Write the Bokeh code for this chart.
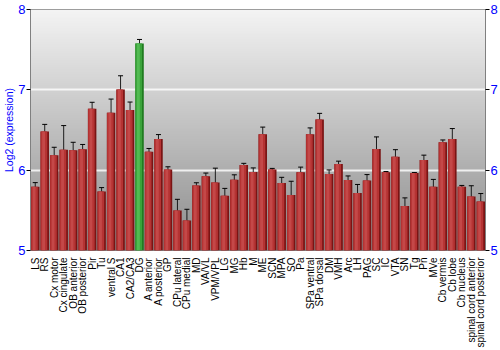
import numpy as np
from bokeh.plotting import figure
from bokeh.models import (ColumnDataSource, Range1d, Whisker, TeeHead,
                          LinearAxis, FixedTicker)
from bokeh.transform import dodge
from bokeh.embed import file_html
from bokeh.resources import INLINE

regions = ["LS", "RS", "Cx motor", "Cx cingulate", "OB anterior", "OB posterior", "Pir", "Tu",
           "ventral S", "CA1", "CA2/CA3", "DG", "A anterior", "A posterior", "GP", "CPu lateral",
           "CPu medial", "MD", "VA/VL", "VPM/VPL", "LG", "MG", "Hb", "M", "ME", "SCN", "MPA", "SO",
           "Pa", "SPa ventral", "SPa dorsal", "DM", "VMH", "Arc", "LH", "PAG", "SC", "IC", "VTA",
           "SN", "Tg", "Pn", "MVe", "Cb vermis", "Cb lobe", "Cb nucleus", "spinal cord anterior",
           "spinal cord posterior"]
expression = [5.795, 6.48, 6.185, 6.255, 6.247, 6.26, 6.765, 5.733,
              6.715, 7.005, 6.748, 7.577, 6.23, 6.388, 6.007, 5.497,
              5.373, 5.808, 5.924, 5.845, 5.683, 5.882, 6.065, 5.978, 6.446, 6.007, 5.841, 5.692,
              5.973, 6.446, 6.632, 5.953, 6.077, 5.878, 5.717, 5.87, 6.264, 5.973, 6.168,
              5.555, 5.965, 6.127, 5.795, 6.346, 6.388, 5.795, 5.671,
              5.609]
error = [0.05, 0.09, 0.1, 0.3, 0.1, 0.06, 0.08, 0.05,
         0.17, 0.17, 0.1, 0.05, 0.04, 0.055, 0.035, 0.14,
         0.14, 0.035, 0.04, 0.18, 0.09, 0.06, 0.02, 0.05, 0.09, 0.015, 0.07, 0.17,
         0.065, 0.08, 0.075, 0.05, 0.035, 0.05, 0.105, 0.075, 0.15, 0.01, 0.087,
         0.1, 0.005, 0.06, 0.09, 0.03, 0.13, 0.015, 0.135,
         0.1]
highlight = "DG"
y_ticks = [5, 6, 7, 8]

BLUE = "#0000ff"
idx = list(range(len(regions)))
dark = ["#1f7a1f" if r == highlight else "#7a1414" for r in regions]
mid = ["#3aa33a" if r == highlight else "#b53333" for r in regions]
light = ["#52bb52" if r == highlight else "#c44848" for r in regions]

src = ColumnDataSource(dict(
    idx=idx, regions=regions, expression=expression,
    upper=[v + e for v, e in zip(expression, error)],
    lower=[v - e for v, e in zip(expression, error)],
    dark=dark, mid=mid, light=light,
))

x0, x1 = -0.5, len(regions) - 0.5
p = figure(width=500, height=350, x_range=Range1d(x0, x1),
           y_range=Range1d(5, 8), output_backend="svg", toolbar_location=None,
           min_border_top=9, min_border_right=0, min_border_left=0, min_border_bottom=0)

# background gradient (decoration)
n = 256
t = np.linspace(0, 1, n)[:, None]  # 0 bottom -> 1 top
g = (140 + (244 - 140) * t).astype(np.uint32)
img = np.empty((n, 1), dtype=np.uint32)
view = img.view(dtype=np.uint8).reshape((n, 1, 4))
view[:, :, 0] = g
view[:, :, 1] = g
view[:, :, 2] = g
view[:, :, 3] = 255
p.image_rgba(image=[img], x=x0, y=5, dw=x1 - x0, dh=3, level="image")

p.vbar(x="idx", top="expression", bottom=5, width=0.9, source=src,
       fill_color="dark", line_color=None)
p.vbar(x=dodge("idx", -0.08), top="expression", bottom=5, width=0.7,
       source=src, fill_color="mid", line_color=None)
p.vbar(x=dodge("idx", -0.12), top="expression", bottom=5, width=0.3,
       source=src, fill_color="light", line_color=None)

p.add_layout(Whisker(source=src, base="idx", upper="upper", lower="lower",
                     line_color="black", line_width=1, line_alpha=0.85,
                     upper_head=TeeHead(size=5, line_color="black"),
                     lower_head=TeeHead(size=5, line_color="black")))

p.xgrid.grid_line_color = None
p.ygrid.ticker = FixedTicker(ticks=[6, 7])
p.ygrid.grid_line_color = "white"
p.ygrid.grid_line_width = 2
p.ygrid.grid_line_alpha = 0.8

p.outline_line_color = "#808080"

p.yaxis.ticker = FixedTicker(ticks=y_ticks)
p.yaxis.axis_label = "Log2 (expression)"
p.yaxis.axis_label_text_color = BLUE
p.yaxis.axis_label_text_font = "Liberation Sans"
p.yaxis.axis_label_text_font_style = "normal"
p.yaxis.axis_label_text_font_size = "10.5px"
p.yaxis.axis_label_standoff = 0
p.yaxis.major_label_text_color = BLUE
p.yaxis.major_label_text_font = "Liberation Sans"
p.yaxis.major_label_text_font_size = "13px"
p.yaxis.major_label_standoff = 1
p.yaxis.axis_line_color = "#808080"
p.yaxis.major_tick_line_color = "black"
p.yaxis.major_tick_out = 4
p.yaxis.major_tick_in = 0
p.yaxis.minor_tick_line_color = None

ry = LinearAxis(ticker=FixedTicker(ticks=y_ticks))
ry.major_label_text_color = BLUE
ry.major_label_text_font = "Liberation Sans"
ry.major_label_text_font_size = "13px"
ry.major_label_standoff = 1
ry.axis_line_color = "#808080"
ry.major_tick_line_color = "black"
ry.major_tick_out = 4
ry.major_tick_in = 0
ry.minor_tick_line_color = None
p.add_layout(ry, "right")

p.xaxis.ticker = FixedTicker(ticks=idx)
p.xaxis.major_label_overrides = {i: r for i, r in zip(idx, regions)}
p.xaxis.major_label_orientation = np.pi / 2
p.xaxis.major_label_text_font = "Liberation Sans"
p.xaxis.major_label_text_font_size = "10px"
p.xaxis.major_label_text_color = "black"
p.xaxis.major_label_standoff = 1
p.xaxis.axis_line_color = None
p.xaxis.major_tick_line_color = None
p.xaxis.minor_tick_line_color = None

open("out.html", "w").write(file_html(p, INLINE))
